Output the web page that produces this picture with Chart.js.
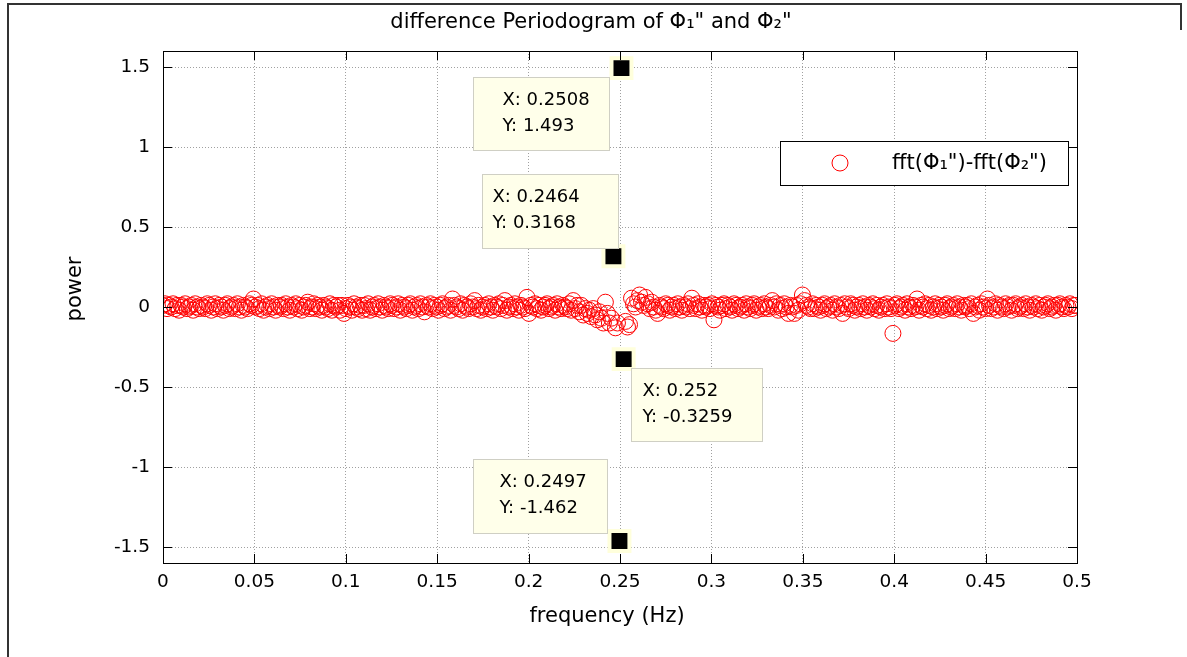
<!DOCTYPE html>
<html lang="en">
<head>
<meta charset="UTF-8">
<title>difference Periodogram</title>
<script src="https://cdn.jsdelivr.net/npm/chart.js"></script>
<style>
  body { margin: 0; background: #fff; }
  canvas { display: block; }
</style>
</head>
<body>
<canvas id="periodogram" width="1187" height="657"></canvas>
<script>
// spacing of the frequency bins (Hz)
const freqStep = 0.0011;

// fft(Phi1'') - fft(Phi2''), one value per bin
const powerDiff = [
  0.01, 0.02, -0.01, 0.01, 0, 0.02, -0.01, 0.01, -0.02, 0.01, 0, 0.02, -0.01, 0, 0.01, -0.02, 0.02, 0, -0.01, 0.01,
  0, -0.01, 0.02, 0.01, -0.02, 0, 0.02, -0.01, 0.01, 0, -0.02, 0.01, 0.02, -0.01, 0, 0.01, -0.01, 0.02, 0, -0.02,
  0.01, 0, -0.01, 0.02, 0.01, 0.05, 0, 0.01, -0.01, 0.02, -0.02, 0, 0.01, -0.01, 0.02, 0, -0.02, 0.01, 0, 0.01,
  -0.01, 0.02, 0, -0.02, 0.01, 0, 0.02, -0.01, 0.01, -0.02, 0, 0.01, 0.03, -0.01, 0, 0.02, -0.01, 0.01, 0, -0.02,
  0.01, 0, -0.01, 0.02, -0.02, 0.01, 0, 0.01, -0.02, 0.01, -0.04, -0.01, 0.01, 0, -0.02, 0.02, 0, -0.01, 0.01, -0.02,
  0.01, -0.01, 0.02, -0.02, 0, 0.01, -0.01, 0.02, 0, -0.02, 0.01, 0, -0.01, 0.02, 0.01, -0.01, 0, 0.02, -0.02, 0.01,
  0, -0.01, 0.01, 0.02, -0.02, 0, 0.01, -0.01, 0.02, 0, -0.03, 0.01, 0, 0.02, -0.01, 0.01, 0, -0.02, 0.01, 0.02,
  -0.01, 0, 0.01, -0.02, 0.05, 0.01, 0, -0.01, 0.02, -0.02, 0.01, 0, -0.01, 0.02, 0, 0.04, -0.01, 0.01, -0.02, 0,
  0.01, -0.01, 0.02, 0, -0.02, 0.01, 0, 0.02, -0.01, 0.01, 0.04, -0.02, 0, 0.01, -0.01, 0.02, 0, -0.02, 0.01, 0,
  -0.01, 0.06, -0.04, 0.01, 0, 0.02, -0.01, 0.01, -0.02, 0, 0.01, 0.02, -0.01, 0, 0.01, -0.02, 0.02, 0, -0.01, 0.01,
  0, -0.01, 0.02, -0.02, 0.04, -0.01, 0.01, -0.03, 0.01, -0.05, -0.01, -0.04, -0.02, -0.06, -0.01, -0.05, -0.08, -0.03, -0.07, -0.1,
  0.03, -0.04, -0.1, -0.07, 0.3168, -0.13, -0.1, -1.462, 1.493, -0.3259, -0.09, -0.125, -0.11, 0.055, 0.02, 0, 0.04, 0.075, 0.03, 0.01,
  0.06, 0.02, -0.01, 0.03, 0, -0.02, -0.04, 0.01, 0, -0.01, 0.02, 0.01, -0.02, 0, 0.01, -0.01, 0.02, 0, -0.02, 0.01,
  0, 0.02, -0.01, 0.055, 0.01, -0.01, 0.02, 0, -0.02, 0.01, 0, 0.01, -0.01, 0.02, -0.08, 0.01, 0, -0.02, 0.01, 0.02,
  -0.01, 0.01, 0, -0.02, 0.02, 0.01, -0.01, 0, 0.01, -0.02, 0.02, 0, -0.01, 0.01, 0.02, -0.02, 0, 0.01, -0.01, 0.02,
  0, -0.01, 0.01, 0.04, 0, 0.02, -0.02, 0.01, -0.01, 0.02, 0, -0.04, 0.01, 0, -0.04, 0.01, -0.02, 0.02, 0.075, 0.04,
  0.01, 0, -0.01, 0.02, -0.01, 0.01, 0, -0.02, 0.01, 0.02, -0.01, 0, 0.01, -0.02, 0.02, 0, -0.01, 0.01, -0.04, 0.02,
  0, -0.01, 0.02, 0.01, -0.02, 0, 0.01, -0.01, 0.02, 0, -0.02, 0.01, 0, 0.02, -0.01, 0.01, -0.02, 0, 0.01, -0.01,
  0.02, 0, -0.01, -0.165, 0.01, 0.02, -0.01, 0, 0.01, -0.02, 0.02, 0, -0.01, 0.01, 0, 0.05, -0.02, 0.01, 0, 0.02,
  -0.01, 0.01, -0.02, 0, 0.02, -0.01, 0.01, 0, -0.02, 0.01, 0.02, -0.01, 0, 0.01, -0.01, 0.02, 0, -0.02, 0.01, 0,
  0.01, -0.01, 0.02, -0.04, 0, 0.01, -0.02, 0.02, 0, -0.01, 0.05, 0.01, -0.01, 0, 0.02, -0.02, 0.01, 0, -0.01, 0.02,
  0, 0.01, -0.02, 0.01, 0.02, -0.01, 0, 0.01, -0.01, 0.02, 0, -0.02, 0.01, 0, 0.02, -0.01, 0.01, -0.02, 0, 0.01,
  0.02, -0.01, 0, 0.01, -0.02, 0.01, 0.02, 0, -0.01, 0.01, 0, 0.02, -0.01, 0.01, 0.01
];

// the four data tips (same bins as in powerDiff)
const tipFreq = [0.2508, 0.2464, 0.252, 0.2497];
const tipPower = [1.493, 0.3168, -0.3259, -1.462];

const xTicks = [0, 0.05, 0.1, 0.15, 0.2, 0.25, 0.3, 0.35, 0.4, 0.45, 0.5];
const xTickLabels = ['0', '0.05', '0.1', '0.15', '0.2', '0.25', '0.3', '0.35', '0.4', '0.45', '0.5'];
const yTicks = [-1.5, -1, -0.5, 0, 0.5, 1, 1.5];
const yTickLabels = ['-1.5', '-1', '-0.5', '0', '0.5', '1', '1.5'];

const FONT = '"DejaVu Sans", Verdana, sans-serif';
const TICK_PX = 18.5;
const LABEL_PX = 21;

const points = powerDiff.map((p, i) => ({ x: i * freqStep, y: p }));
const tips = tipFreq.map((f, i) => ({ x: f, y: tipPower[i] }));

// where each tip's text box sits relative to its marker (px)
const tipBoxes = [
  { dx: -148, dy: 9, w: 136, h: 73, pad: 29 },
  { dx: -131, dy: -82, w: 136, h: 74, pad: 10 },
  { dx: 7, dy: 9, w: 131, h: 73, pad: 11 },
  { dx: -146, dy: -82, w: 134, h: 74, pad: 26 }
];

const decor = {
  id: 'decor',
  afterDatasetsDraw(chart) {
    const { ctx, chartArea: a, scales: { x, y } } = chart;
    ctx.save();

    // axes box + inward ticks
    ctx.strokeStyle = '#000';
    ctx.lineWidth = 1;
    ctx.strokeRect(a.left + 0.5, a.top + 0.5, a.right - a.left, a.bottom - a.top);
    ctx.beginPath();
    xTicks.forEach(v => {
      const px = Math.round(x.getPixelForValue(v)) + 0.5;
      ctx.moveTo(px, a.bottom); ctx.lineTo(px, a.bottom - 9);
      ctx.moveTo(px, a.top); ctx.lineTo(px, a.top + 9);
    });
    yTicks.forEach(v => {
      const py = Math.round(y.getPixelForValue(v)) + 0.5;
      ctx.moveTo(a.left, py); ctx.lineTo(a.left + 9, py);
      ctx.moveTo(a.right, py); ctx.lineTo(a.right - 9, py);
    });
    ctx.stroke();

    // data tip boxes
    ctx.font = '18px ' + FONT;
    ctx.textBaseline = 'middle';
    ctx.textAlign = 'left';
    tips.forEach((t, i) => {
      const b = tipBoxes[i];
      const bx = Math.round(x.getPixelForValue(t.x) + b.dx) + 0.5;
      const by = Math.round(y.getPixelForValue(t.y) + b.dy) + 0.5;
      ctx.fillStyle = '#ffffea';
      ctx.fillRect(bx, by, b.w, b.h);
      ctx.strokeStyle = '#cfcfc4';
      ctx.strokeRect(bx, by, b.w, b.h);
      ctx.fillStyle = '#000';
      ctx.fillText('X: ' + t.x, bx + b.pad, by + 23);
      ctx.fillText('Y: ' + t.y, bx + b.pad, by + 49);
    });

    // legend
    const lx = a.right - 297, ly = a.top + 90;
    ctx.fillStyle = '#fff';
    ctx.fillRect(lx + 0.5, ly + 0.5, 288, 44);
    ctx.strokeStyle = '#000';
    ctx.strokeRect(lx + 0.5, ly + 0.5, 288, 44);
    ctx.beginPath();
    ctx.arc(lx + 60, ly + 22, 8, 0, Math.PI * 2);
    ctx.strokeStyle = '#ff0000';
    ctx.stroke();
    ctx.fillStyle = '#000';
    ctx.font = LABEL_PX + 'px ' + FONT;
    ctx.fillText('fft(\u03A6\u2081")-fft(\u03A6\u2082")', lx + 112, ly + 23);

    ctx.restore();
  },
  afterDraw(chart) {
    const { ctx, chartArea: a } = chart;
    ctx.save();
    ctx.fillStyle = '#000';
    ctx.font = LABEL_PX + 'px ' + FONT;
    ctx.textAlign = 'center';
    ctx.textBaseline = 'middle';
    ctx.fillText('difference Periodogram of \u03A6\u2081" and \u03A6\u2082"', 591, 23);
    ctx.fillText('frequency (Hz)', (a.left + a.right) / 2 - 13, a.bottom + 54);
    ctx.translate(76, (a.top + a.bottom) / 2 - 18);
    ctx.rotate(-Math.PI / 2);
    ctx.fillText('power', 0, 0);
    ctx.restore();

    // figure frame
    ctx.save();
    ctx.strokeStyle = '#333';
    ctx.lineWidth = 2;
    ctx.beginPath();
    ctx.moveTo(8, 657); ctx.lineTo(8, 4); ctx.lineTo(1181, 4); ctx.lineTo(1181, 30);
    ctx.stroke();
    ctx.restore();
  }
};

const gridOpts = { color: '#a0a0a0', lineWidth: 1, drawTicks: false };
const borderOpts = { display: false, dash: [1, 2] };

new Chart(document.getElementById('periodogram'), {
  type: 'scatter',
  data: {
    datasets: [
      {
        label: 'data tips',
        data: tips,
        pointStyle: 'rect',
        pointRadius: 14.1,
        pointHoverRadius: 14.1,
        backgroundColor: '#000',
        borderColor: '#ffffdc',
        borderWidth: 4
      },
      {
        label: 'fft(\u03A6\u2081")-fft(\u03A6\u2082")',
        data: points,
        pointStyle: 'circle',
        pointRadius: 8,
        pointHoverRadius: 8,
        backgroundColor: 'rgba(0,0,0,0)',
        borderColor: '#ff0000',
        borderWidth: 1
      }
    ]
  },
  options: {
    responsive: false,
    animation: false,
    layout: { padding: { left: 0, top: 51, right: 110, bottom: 0 } },
    plugins: { legend: { display: false }, title: { display: false }, tooltip: { enabled: false } },
    scales: {
      x: {
        type: 'linear',
        min: 0,
        max: 0.5,
        grid: gridOpts,
        border: borderOpts,
        afterBuildTicks: s => { s.ticks = xTicks.map(v => ({ value: v })); },
        afterFit: s => { s.height = 94; },
        ticks: {
          padding: 8,
          color: '#000',
          font: { family: FONT, size: TICK_PX },
          maxRotation: 0,
          callback: (v, i) => xTickLabels[i]
        }
      },
      y: {
        type: 'linear',
        min: -1.6,
        max: 1.6,
        grid: gridOpts,
        border: borderOpts,
        afterBuildTicks: s => { s.ticks = yTicks.map(v => ({ value: v })); },
        afterFit: s => { s.width = 163; },
        ticks: {
          padding: 13,
          color: '#000',
          font: { family: FONT, size: TICK_PX },
          callback: (v, i) => yTickLabels[i]
        }
      }
    }
  },
  plugins: [decor]
});
</script>
</body>
</html>
